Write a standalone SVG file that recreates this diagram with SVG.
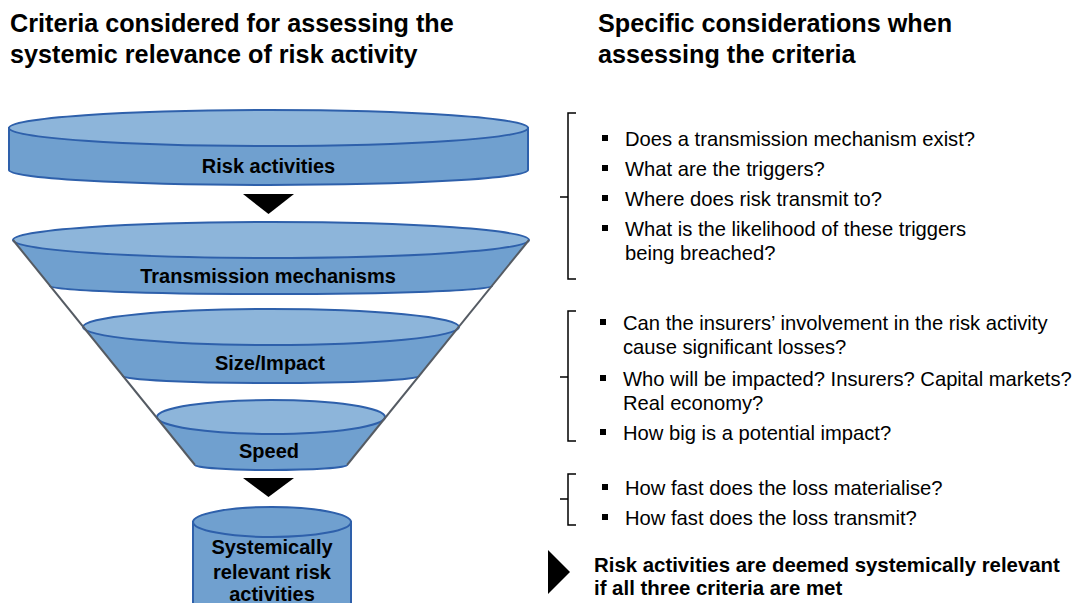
<svg xmlns="http://www.w3.org/2000/svg" width="1078" height="603" viewBox="0 0 1078 603">
<style>
.title{font-family:"Liberation Sans",Arial,sans-serif;font-size:25.2px;font-weight:bold;fill:#000}
.lbl{font-family:"Liberation Sans",Arial,sans-serif;font-size:20px;font-weight:bold;fill:#000;text-anchor:middle}
.txt{font-family:"Liberation Sans",Arial,sans-serif;font-size:20.2px;fill:#000}
.bold{font-family:"Liberation Sans",Arial,sans-serif;font-size:20.4px;font-weight:bold;fill:#000}
.top{fill:#8db5da;stroke:#2e60ab;stroke-width:2}
.body{fill:#70a0cf;stroke:none}
.edge{fill:none;stroke:#2e60ab;stroke-width:2}
.cyl{fill:#70a0cf;stroke:#2e60ab;stroke-width:2}
.funnel{stroke:#555b63;stroke-width:2;fill:none}
.br{fill:none;stroke:#000;stroke-width:1.5}
.bul{fill:#000}
.arr{fill:#000}
</style>

<g id="titles">
<text class="title" x="10" y="32">Criteria considered for assessing the</text>
<text class="title" x="10" y="63">systemic relevance of risk activity</text>
<text class="title" x="598" y="32">Specific considerations when</text>
<text class="title" x="598" y="63">assessing the criteria</text>
</g>

<g id="node-risk-activities">
<path class="cyl" d="M9,128 L9,170 A259.5,15 0 0 0 528,170 L528,128 Z"/>
<ellipse class="top" cx="268.5" cy="128" rx="259.5" ry="18"/>
<text class="lbl" x="268.5" y="173">Risk activities</text>
</g>

<g id="node-transmission">
<path class="body" d="M13,240 L50,286 A221,8 0 0 0 492,286 L529,240 A258,18 0 0 1 13,240 Z"/>
<path class="edge" d="M50,286 A221,8 0 0 0 492,286"/>
<ellipse class="top" cx="271" cy="240" rx="258" ry="18"/>
<text class="lbl" x="268" y="283">Transmission mechanisms</text>
</g>

<g id="node-size">
<path class="body" d="M83,327 L123,376 A148,7 0 0 0 419,376 L459,327 A188,18 0 0 1 83,327 Z"/>
<path class="edge" d="M123,376 A148,7 0 0 0 419,376"/>
<ellipse class="top" cx="271" cy="327" rx="188" ry="18"/>
<text class="lbl" x="270" y="370">Size/Impact</text>
</g>

<g id="node-speed">
<path class="body" d="M157,417 L195,465 A76,5 0 0 0 347,465 L385,417 A114,17 0 0 1 157,417 Z"/>
<path class="edge" d="M195,465 A76,5 0 0 0 347,465"/>
<ellipse class="top" cx="271" cy="417" rx="114" ry="17"/>
<text class="lbl" x="269" y="458">Speed</text>
</g>

<g id="node-systemic">
<path class="cyl" d="M193,522 L193,620 L351,620 L351,522 Z"/>
<ellipse class="cyl" cx="272" cy="522" rx="79" ry="15"/>
<text class="lbl" x="272" y="554">Systemically</text>
<text class="lbl" x="272" y="579">relevant risk</text>
<text class="lbl" x="272" y="601">activities</text>
</g>

<g id="connectors">
<line class="funnel" x1="13" y1="240" x2="195" y2="465"/>
<line class="funnel" x1="529" y1="240" x2="347" y2="465"/>
<polygon class="arr" points="243,194 294,194 268.5,214"/>
<polygon class="arr" points="243,478 294,478 268.5,497"/>
</g>

<g id="group-transmission-questions">
<path class="br" d="M576,113 L568,113 L568,279 L576,279 M568,197 L560,197"/>
<rect class="bul" x="602" y="135" width="6" height="6"/>
<text class="txt" x="625" y="146">Does a transmission mechanism exist?</text>
<rect class="bul" x="602" y="165" width="6" height="6"/>
<text class="txt" x="625" y="176">What are the triggers?</text>
<rect class="bul" x="602" y="195" width="6" height="6"/>
<text class="txt" x="625" y="206">Where does risk transmit to?</text>
<rect class="bul" x="602" y="225" width="6" height="6"/>
<text class="txt" x="625" y="236">What is the likelihood of these triggers</text>
<text class="txt" x="625" y="260">being breached?</text>
</g>

<g id="group-size-questions">
<path class="br" d="M576,311 L568,311 L568,441 L576,441 M568,377 L560,377"/>
<rect class="bul" x="600" y="319" width="6" height="6"/>
<text class="txt" x="623" y="330">Can the insurers’ involvement in the risk activity</text>
<text class="txt" x="623" y="354">cause significant losses?</text>
<rect class="bul" x="600" y="375" width="6" height="6"/>
<text class="txt" x="623" y="386">Who will be impacted? Insurers? Capital markets?</text>
<text class="txt" x="623" y="410">Real economy?</text>
<rect class="bul" x="600" y="429" width="6" height="6"/>
<text class="txt" x="623" y="440">How big is a potential impact?</text>
</g>

<g id="group-speed-questions">
<path class="br" d="M576,474 L568,474 L568,525 L576,525 M568,499 L560,499"/>
<rect class="bul" x="602" y="484" width="6" height="6"/>
<text class="txt" x="625" y="495">How fast does the loss materialise?</text>
<rect class="bul" x="602" y="514" width="6" height="6"/>
<text class="txt" x="625" y="525">How fast does the loss transmit?</text>
</g>

<g id="node-conclusion">
<polygon class="arr" points="548,550 570,572 548,594"/>
<text class="bold" x="594" y="572">Risk activities are deemed systemically relevant</text>
<text class="bold" x="594" y="595">if all three criteria are met</text>
</g>
</svg>
